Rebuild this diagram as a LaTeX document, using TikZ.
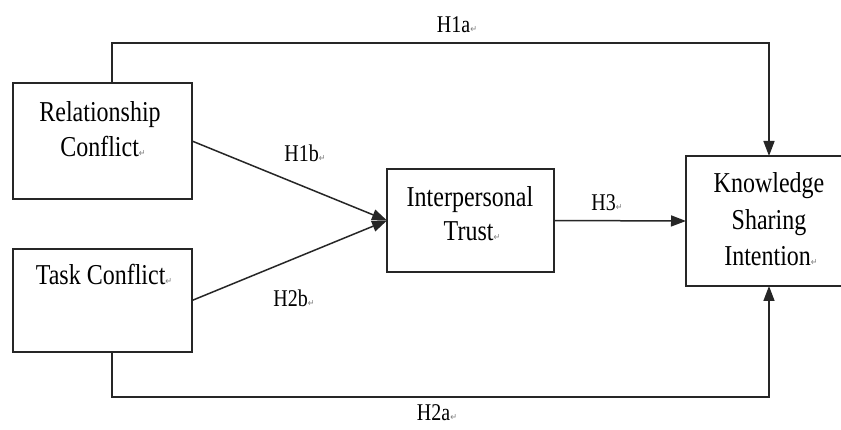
\documentclass[tikz,border=0pt]{standalone}
\usepackage{fontspec}
\setmainfont{Liberation Serif}
\newfontfamily\symfont{DejaVu Sans}
\usetikzlibrary{arrows.meta,calc}
\newcommand{\pmk}{{\symfont\fontsize{8}{8}\selectfont\color{gray}↵}}
\newcommand{\st}[1]{\scalebox{1}[1.2]{#1}}
\begin{document}
\begin{tikzpicture}[x=1pt,y=-1pt,
  box/.style={draw=black!85, line width=1.5pt, inner sep=0pt, outer sep=0pt},
  txt/.style={inner sep=0pt, anchor=base, font=\fontsize{24}{28}\selectfont},
  lbl/.style={inner sep=0pt, anchor=base, font=\fontsize{20}{24}\selectfont},
  conn/.style={draw=black!85, line width=1.5pt},
  arr/.style={conn, -{Triangle[length=15pt,width=11pt]}}]
\useasboundingbox[fill=white] (0,0) rectangle (841,430);
% boxes
\node[box, minimum width=179pt, minimum height=116pt] (RC) at (102.5,141) {};
\node[box, minimum width=179pt, minimum height=103pt] (TC) at (102.5,300.5) {};
\node[box, minimum width=167pt, minimum height=103pt] (IT) at (470.5,220.5) {};
\node[box, minimum width=170pt, minimum height=130pt] (KS) at (771,221) {};
% box texts
\node[txt] (rc1) at (100,122) {\st{Relationship}};
\node[txt] (rc2) at (103,157) {\st{Conflict\pmk}};
\node[txt] (tc1) at (104,285) {\st{Task Conflict\pmk}};
\node[txt] (it1) at (470,207) {\st{Interpersonal}};
\node[txt] (it2) at (472,241) {\st{Trust\pmk}};
\node[txt] (ks1) at (769,193) {\st{Knowledge}};
\node[txt] (ks2) at (769,230) {\st{Sharing}};
\node[txt] (ks3) at (771,266) {\st{Intention\pmk}};
% connectors
\draw[arr] ([xshift=9.5pt]RC.north) -- ++(0,-40) -| ([xshift=-2pt]KS.north);
\draw[arr] ([xshift=9.5pt]TC.south) -- ++(0,45) -| ([xshift=-2pt]KS.south);
\draw[arr] (RC.east) -- (IT.west);
\draw[arr] (TC.east) -- (IT.west);
\draw[arr] (IT.east) -- (KS.west);
% labels
\node[lbl] (h1a) at (457,33) {\st{H1a\pmk}};
\node[lbl] (h1b) at (305,162) {\st{H1b\pmk}};
\node[lbl] (h2b) at (294,307) {\st{H2b\pmk}};
\node[lbl] (h3) at (607,211) {\st{H3\pmk}};
\node[lbl] (h2a) at (437,420) {\st{H2a\pmk}};
\end{tikzpicture}
\end{document}
